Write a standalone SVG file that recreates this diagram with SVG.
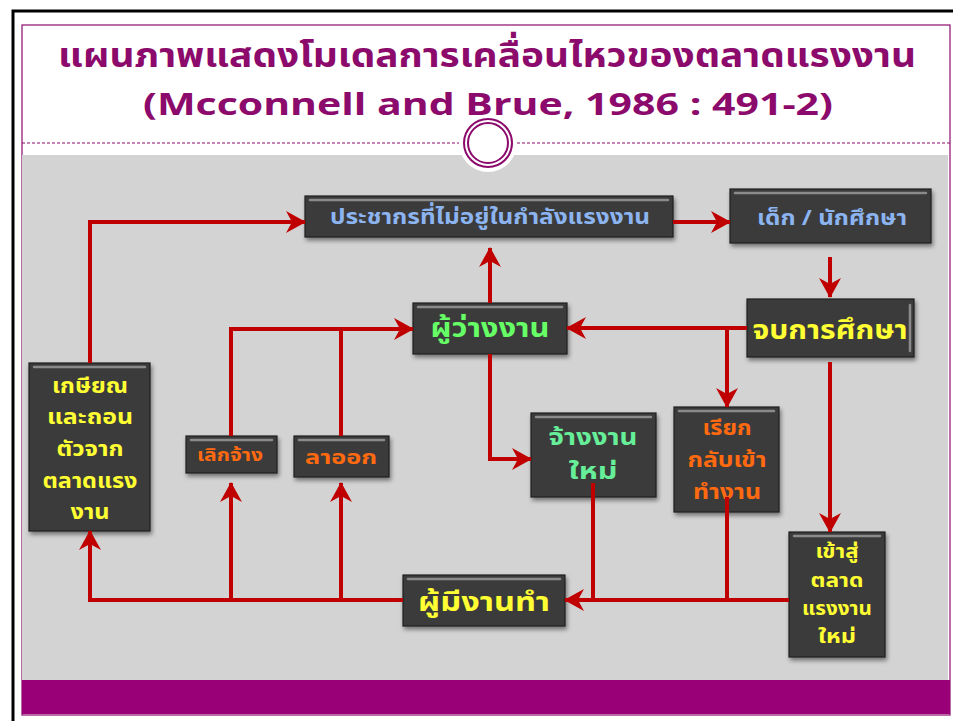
<svg xmlns="http://www.w3.org/2000/svg" width="953" height="721" viewBox="0 0 953 721">
<style>
.box{fill:#3b3b3b;stroke:#1e1e1e;stroke-width:1.2;filter:url(#sh)}
.hl{fill:none;stroke:#8a8a8a;stroke-width:2.5;stroke-linecap:round}
.t{font-family:"Noto Sans Thai","Tahoma","DejaVu Sans","Liberation Sans",sans-serif;font-weight:bold;text-anchor:middle}
.blue{fill:#8cb4f0}
.yel{fill:#ffff33}
.grn{fill:#66ff66}
.grn2{fill:#66ee99}
.org{fill:#ff6a10}
.c{fill:none;stroke:#c00000;stroke-width:4;stroke-linejoin:miter}
.title{font-family:"Noto Sans Thai","Tahoma","DejaVu Sans","Liberation Sans",sans-serif;font-weight:bold;fill:#8b0a6b;text-anchor:middle}
</style>
<defs>
<filter id="sh" x="-10%" y="-10%" width="130%" height="140%">
<feDropShadow dx="1.5" dy="3" stdDeviation="2" flood-color="#000" flood-opacity="0.45"/>
</filter>
<marker id="ar" markerUnits="userSpaceOnUse" markerWidth="20" markerHeight="22" refX="19" refY="11" orient="auto">
<path d="M0,0 L20,11 L0,22 L6,11 Z" fill="#c00000"/>
</marker>
</defs>
<rect width="953" height="721" fill="#ffffff"/>
<path d="M13,721 V11 H953" fill="none" stroke="#000" stroke-width="3"/>
<rect x="22" y="25" width="928" height="690" fill="#ffffff" stroke="#8b0a6b" stroke-width="1.2"/>
<rect x="22" y="155" width="926" height="525" fill="#d3d3d3"/>
<rect x="22" y="680" width="928" height="34" fill="#990077"/>
<line x1="22" y1="143" x2="950" y2="143" stroke="#8b0a6b" stroke-width="1" stroke-dasharray="3,2"/>
<circle cx="488" cy="143" r="29" fill="#ffffff"/>
<circle cx="488" cy="143" r="24" fill="#ffffff" stroke="#8b0a6b" stroke-width="2"/>
<circle cx="488" cy="143" r="20" fill="none" stroke="#8b0a6b" stroke-width="2"/>
<text class="title" x="487" y="67" font-size="34" textLength="858" lengthAdjust="spacingAndGlyphs">แผนภาพแสดงโมเดลการเคลื่อนไหวของตลาดแรงงาน</text>
<text class="title" x="488" y="115" font-size="30" textLength="690" lengthAdjust="spacingAndGlyphs">(Mcconnell and Brue, 1986 : 491-2)</text>

<g id="n-pop">
<rect class="box" x="305" y="196" width="368" height="41"/>
<line class="hl" x1="310" y1="200" x2="668" y2="200"/>
<text class="t blue" x="490" y="224" font-size="21" textLength="320" lengthAdjust="spacingAndGlyphs">ประชากรที่ไม่อยู่ในกำลังแรงงาน</text>
</g>
<g id="n-student">
<rect class="box" x="730" y="189" width="201" height="54"/>
<line class="hl" x1="735" y1="193" x2="926" y2="193"/>
<text class="t blue" x="832" y="225" font-size="22" textLength="150" lengthAdjust="spacingAndGlyphs">เด็ก / นักศึกษา</text>
</g>
<g id="n-grad">
<rect class="box" x="747" y="299" width="167" height="58"/>
<line class="hl" x1="910" y1="305" x2="910" y2="351"/>
<text class="t yel" x="830" y="339" font-size="27" textLength="155" lengthAdjust="spacingAndGlyphs">จบการศึกษา</text>
</g>
<g id="n-unemp">
<rect class="box" x="413" y="303" width="154" height="51"/>
<line class="hl" x1="418" y1="307" x2="562" y2="307"/>
<text class="t grn" x="490" y="337" font-size="27" textLength="119" lengthAdjust="spacingAndGlyphs">ผู้ว่างงาน</text>
</g>
<g id="n-retire">
<rect class="box" x="29" y="363" width="121" height="168"/>
<line class="hl" x1="34" y1="367" x2="145" y2="367"/>
<text class="t yel" x="90" y="393" font-size="21" textLength="76" lengthAdjust="spacingAndGlyphs">เกษียณ</text>
<text class="t yel" x="90" y="424" font-size="21" textLength="86" lengthAdjust="spacingAndGlyphs">และถอน</text>
<text class="t yel" x="90" y="456" font-size="21" textLength="67" lengthAdjust="spacingAndGlyphs">ตัวจาก</text>
<text class="t yel" x="90" y="488" font-size="21" textLength="95" lengthAdjust="spacingAndGlyphs">ตลาดแรง</text>
<text class="t yel" x="90" y="519" font-size="21" textLength="39" lengthAdjust="spacingAndGlyphs">งาน</text>
</g>
<g id="n-laidoff">
<rect class="box" x="186" y="436" width="91" height="37"/>
<line class="hl" x1="191" y1="440" x2="272" y2="440"/>
<text class="t org" x="230" y="461" font-size="18" textLength="66" lengthAdjust="spacingAndGlyphs">เลิกจ้าง</text>
</g>
<g id="n-quit">
<rect class="box" x="294" y="436" width="95" height="41"/>
<line class="hl" x1="299" y1="440" x2="384" y2="440"/>
<text class="t org" x="341" y="464" font-size="19" textLength="72" lengthAdjust="spacingAndGlyphs">ลาออก</text>
</g>
<g id="n-emp">
<rect class="box" x="403" y="575" width="162" height="51"/>
<line class="hl" x1="408" y1="579" x2="560" y2="579"/>
<text class="t yel" x="484" y="611" font-size="27" textLength="132" lengthAdjust="spacingAndGlyphs">ผู้มีงานทำ</text>
</g>
<g id="n-hire">
<rect class="box" x="531" y="413" width="125" height="84"/>
<line class="hl" x1="536" y1="417" x2="651" y2="417"/>
<text class="t grn2" x="593" y="445" font-size="23" textLength="89" lengthAdjust="spacingAndGlyphs">จ้างงาน</text>
<text class="t grn2" x="593" y="479" font-size="23" textLength="49" lengthAdjust="spacingAndGlyphs">ใหม่</text>
</g>
<g id="n-recall">
<rect class="box" x="674" y="407" width="105" height="105"/>
<line class="hl" x1="679" y1="411" x2="774" y2="411"/>
<text class="t org" x="727" y="435" font-size="21" textLength="49" lengthAdjust="spacingAndGlyphs">เรียก</text>
<text class="t org" x="727" y="467" font-size="21" textLength="79" lengthAdjust="spacingAndGlyphs">กลับเข้า</text>
<text class="t org" x="727" y="499" font-size="21" textLength="68" lengthAdjust="spacingAndGlyphs">ทำงาน</text>
</g>
<g id="n-new">
<rect class="box" x="789" y="532" width="96" height="125"/>
<line class="hl" x1="794" y1="536" x2="880" y2="536"/>
<text class="t yel" x="837" y="558" font-size="19" textLength="43" lengthAdjust="spacingAndGlyphs">เข้าสู่</text>
<text class="t yel" x="837" y="587" font-size="19" textLength="53" lengthAdjust="spacingAndGlyphs">ตลาด</text>
<text class="t yel" x="837" y="615" font-size="19" textLength="70" lengthAdjust="spacingAndGlyphs">แรงงาน</text>
<text class="t yel" x="837" y="643" font-size="19" textLength="38" lengthAdjust="spacingAndGlyphs">ใหม่</text>
</g>

<g id="connectors">
<path class="c" d="M90,363 V222 H305" marker-end="url(#ar)"/>
<path class="c" d="M673,222 H730" marker-end="url(#ar)"/>
<path class="c" d="M830,257 V297" marker-end="url(#ar)"/>
<path class="c" d="M747,328 H567" marker-end="url(#ar)"/>
<path class="c" d="M727,328 V407" marker-end="url(#ar)"/>
<path class="c" d="M830,362 V532" marker-end="url(#ar)"/>
<path class="c" d="M490,303 V248" marker-end="url(#ar)"/>
<path class="c" d="M490,354 V459 H531" marker-end="url(#ar)"/>
<path class="c" d="M231,436 V329 H413" marker-end="url(#ar)"/>
<path class="c" d="M341,436 V329"/>
<path class="c" d="M403,600 H90 V531" marker-end="url(#ar)"/>
<path class="c" d="M231,600 V483" marker-end="url(#ar)"/>
<path class="c" d="M341,600 V483" marker-end="url(#ar)"/>
<path class="c" d="M789,600 H565" marker-end="url(#ar)"/>
<path class="c" d="M593,483 V600"/>
<path class="c" d="M727,497 V600"/>
</g>
</svg>
